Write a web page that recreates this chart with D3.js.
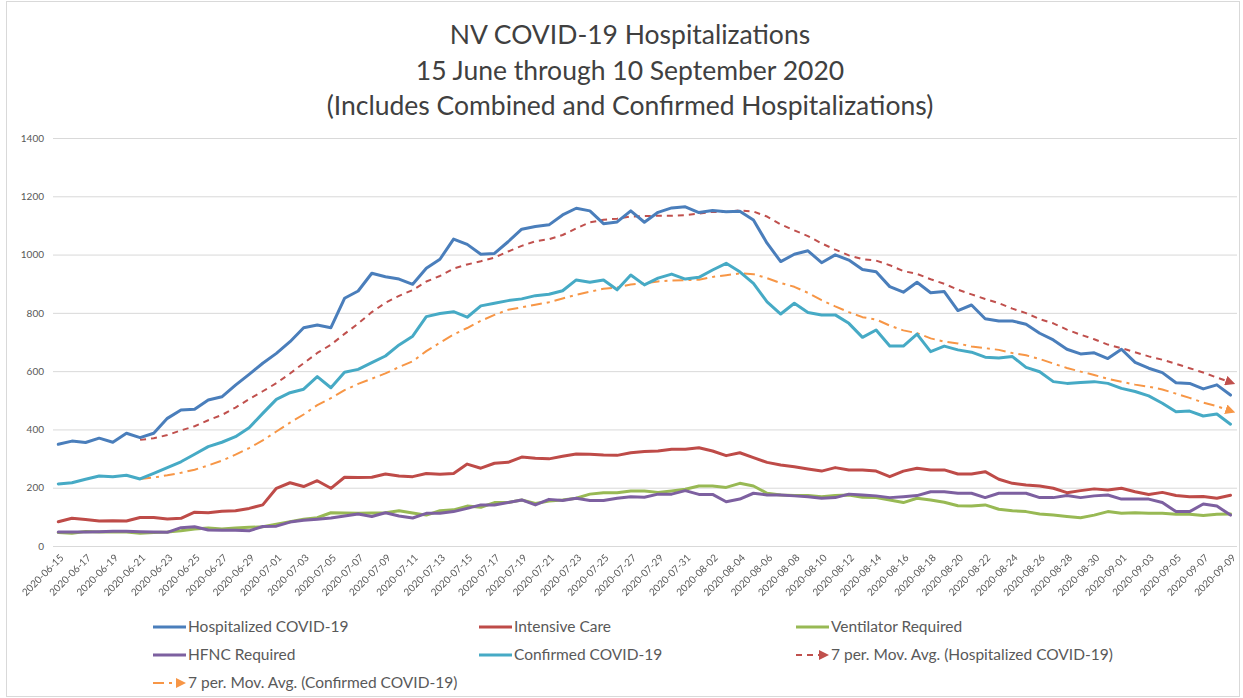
<!DOCTYPE html>
<html>
<head>
<meta charset="utf-8">
<script src="https://cdn.jsdelivr.net/npm/d3@7"></script>
<style>
  html, body { margin: 0; padding: 0; background: #fff; }
  svg { display: block; font-family: Lato, "Liberation Sans", sans-serif; }
</style>
</head>
<body>
<svg id="chart" width="1243" height="698"></svg>
<script>
// ---------- DATA ----------
const titleLines = ["NV COVID-19 Hospitalizations", "15 June through 10 September 2020", "(Includes Combined and Confirmed Hospitalizations)"];
const startDate = "2020-06-15";
const dayCount = 87;
const yTicks = [0, 200, 400, 600, 800, 1000, 1200, 1400];

const hospitalized = [349,360,355,370,356,387,372,387,438,467,469,501,512,552,589,627,661,701,749,758,749,850,875,936,924,916,898,
  953,984,1053,1035,1001,1004,1044,1087,1096,1102,1136,1159,1150,1106,1112,1150,1111,1145,1160,1164,1144,1151,1147,1149,1119,1039,976,1001,1013,
  972,999,981,949,941,890,871,905,869,873,808,827,780,772,772,761,730,707,675,659,663,643,675,630,610,595,560,558,539,553,518];
const intensiveCare = [83,95,91,86,87,86,98,98,93,95,116,114,119,121,129,141,198,217,204,224,198,236,235,236,247,240,238,
  249,246,249,281,267,284,287,305,301,299,308,316,315,312,311,320,324,326,332,332,337,326,310,320,303,287,278,272,264,
  257,269,261,261,257,238,257,267,261,261,247,247,255,229,215,209,206,198,183,190,196,192,198,186,177,184,173,169,170,164,174];
const ventilator = [46,44,50,48,49,48,44,46,48,52,58,62,58,62,64,66,75,83,92,97,114,113,112,113,114,121,113,
  106,121,124,137,133,149,149,158,146,154,158,164,178,183,183,189,189,184,189,195,206,206,201,215,206,181,175,173,173,
  169,173,175,167,166,158,149,164,158,150,138,137,141,126,121,118,110,106,101,97,106,118,112,114,112,112,109,109,105,109,110];
const hfnc = [48,48,48,49,51,51,49,48,47,63,66,55,54,54,52,67,68,82,88,92,96,103,110,101,114,103,96,
  112,112,118,129,141,141,149,158,141,160,156,164,156,156,164,169,167,178,178,190,177,177,152,161,181,175,175,172,169,
  164,166,178,175,172,166,169,173,186,186,181,181,166,181,181,181,166,166,173,166,172,175,161,161,161,149,118,118,144,137,106];
const confirmed = [213,217,229,240,238,243,230,249,269,289,315,341,356,375,406,455,503,526,538,581,543,596,606,629,652,690,720,
  787,798,804,785,824,833,842,848,859,864,876,913,905,913,879,930,896,919,933,916,922,947,970,941,901,838,796,833,801,
  793,793,764,716,741,686,686,727,667,686,673,665,648,645,650,613,598,564,558,561,564,558,541,530,515,490,461,463,446,453,418];
const maPeriod = 7;

// ---------- BUILD ----------
const parse = d3.utcParse("%Y-%m-%d");
const fmt = d3.utcFormat("%Y-%m-%d");
const dates = d3.utcDay.range(parse(startDate), d3.utcDay.offset(parse(startDate), dayCount)).map(fmt);

function movingAvg(arr, n) {
  return arr.map((v, i) => i < n - 1 ? null : d3.mean(arr.slice(i - n + 1, i + 1)));
}
const maHosp = movingAvg(hospitalized, maPeriod);
const maConf = movingAvg(confirmed, maPeriod);

const series = [
  {name: "Hospitalized COVID-19", values: hospitalized, color: "#4A7EBB", width: 3, dash: null},
  {name: "Intensive Care", values: intensiveCare, color: "#BE4B48", width: 3, dash: null},
  {name: "Ventilator Required", values: ventilator, color: "#98B954", width: 3, dash: null},
  {name: "HFNC Required", values: hfnc, color: "#7D60A0", width: 3, dash: null},
  {name: "Confirmed COVID-19", values: confirmed, color: "#46AAC5", width: 3, dash: null},
  {name: "7 per. Mov. Avg. (Hospitalized COVID-19)", values: maHosp, color: "#C0504D", width: 2, dash: "6,5", arrow: true},
  {name: "7 per. Mov. Avg. (Confirmed COVID-19)", values: maConf, color: "#F79646", width: 2, dash: "11,5,3,5", arrow: true}
];

const svg = d3.select("#chart");
const W = 1243, H = 698;
const defs = svg.append("defs");
defs.append("filter").attr("id", "gray").attr("x", 0).attr("y", 0).attr("width", 1).attr("height", 1)
  .append("feOffset").attr("dx", 0).attr("dy", 0);

// outer border
svg.append("rect").attr("x", 6.5).attr("y", 1.5).attr("width", W - 10).attr("height", H - 3)
  .attr("fill", "#fff").attr("stroke", "#d9d9d9").attr("stroke-width", 1);

// title
svg.append("g").selectAll("text").data(titleLines).join("text")
  .attr("x", 630).attr("y", (d, i) => 44 + i * 35.5)
  .attr("text-anchor", "middle").style("fill", "#404040")
  .style("font-size", "26.5px").text(d => d);

const plot = {left: 53, right: 1237, top: 138, bottom: 546};
const x = d3.scalePoint().domain(dates).range([58.3, 1230.5]);
const y = d3.scaleLinear().domain([0, 1400]).range([plot.bottom, plot.top]);

// gridlines + y labels
const yAxis = d3.axisLeft(y).tickValues(yTicks).tickFormat(d3.format("d"))
  .tickSize(-(plot.right - plot.left)).tickPadding(9);
const gy = svg.append("g").attr("transform", `translate(${plot.left},0)`).call(yAxis);
gy.select(".domain").remove();
gy.selectAll(".tick line").attr("stroke", "#d9d9d9").attr("stroke-width", 1);
gy.selectAll(".tick text").style("fill", "#595959").style("font-size", "10px").style("font-family", "Lato, sans-serif");

// x labels
const xAxis = d3.axisBottom(x).tickValues(dates.filter((d, i) => i % 2 === 0)).tickSize(0).tickPadding(0);
const gxWrap = svg.append("g").attr("filter", "url(#gray)");
const gx = gxWrap.append("g").attr("transform", `translate(0,${plot.bottom})`).call(xAxis);
gx.select(".domain").remove();
gx.selectAll(".tick text")
  .style("fill", "#595959").style("font-size", "10px").style("font-family", "Lato, sans-serif")
  .attr("text-anchor", "end").attr("dy", "0.35em")
  .attr("transform", "translate(3,10) rotate(-45)").attr("y", 0).attr("x", 0);

// arrow markers
series.filter(s => s.arrow).forEach((s, k) => {
  s.markerId = "arrow" + k;
  defs.append("marker").attr("id", s.markerId)
    .attr("viewBox", "0 0 10 10").attr("refX", 5).attr("refY", 5)
    .attr("markerWidth", 5).attr("markerHeight", 5).attr("orient", "auto")
    .attr("markerUnits", "strokeWidth")
    .append("path").attr("d", "M0,0 L10,5 L0,10 Z").attr("fill", s.color);
});

// lines
const line = d3.line()
  .defined(d => d.v !== null)
  .x(d => x(d.date)).y(d => y(d.v));

const drawOrder = [6, 5, 2, 3, 1, 4, 0];
const gl = svg.append("g");
drawOrder.forEach(idx => {
  const s = series[idx];
  const pts = s.values.map((v, i) => ({date: dates[i], v}));
  const p = gl.append("path").datum(pts)
    .attr("fill", "none").attr("stroke", s.color).attr("stroke-width", s.width)
    .attr("stroke-linejoin", "round").attr("stroke-linecap", s.dash ? "butt" : "round")
    .attr("d", line);
  if (s.dash) p.attr("stroke-dasharray", s.dash);
  if (s.arrow) p.attr("marker-end", `url(#${s.markerId})`);
});

// legend
const colX = [153, 479, 796];
const rowY = [627, 655, 683];
const lg = svg.append("g");
series.forEach((s, i) => {
  const cx = colX[i % 3], cy = rowY[Math.floor(i / 3)];
  const g = lg.append("g").attr("transform", `translate(${cx},${cy})`);
  if (s.arrow) {
    g.append("line").attr("x1", 0).attr("x2", 28).attr("y1", 0).attr("y2", 0)
      .attr("stroke", s.color).attr("stroke-width", s.width).attr("stroke-dasharray", s.dash)
      .attr("marker-end", `url(#${s.markerId})`);
  } else {
    g.append("line").attr("x1", 0).attr("x2", 33).attr("y1", 0).attr("y2", 0)
      .attr("stroke", s.color).attr("stroke-width", s.width);
  }
  g.append("text").attr("x", 35).attr("y", 0).attr("dy", "0.35em")
    .style("fill", "#595959").style("font-size", "15.5px").text(s.name);
});
</script>
</body>
</html>
